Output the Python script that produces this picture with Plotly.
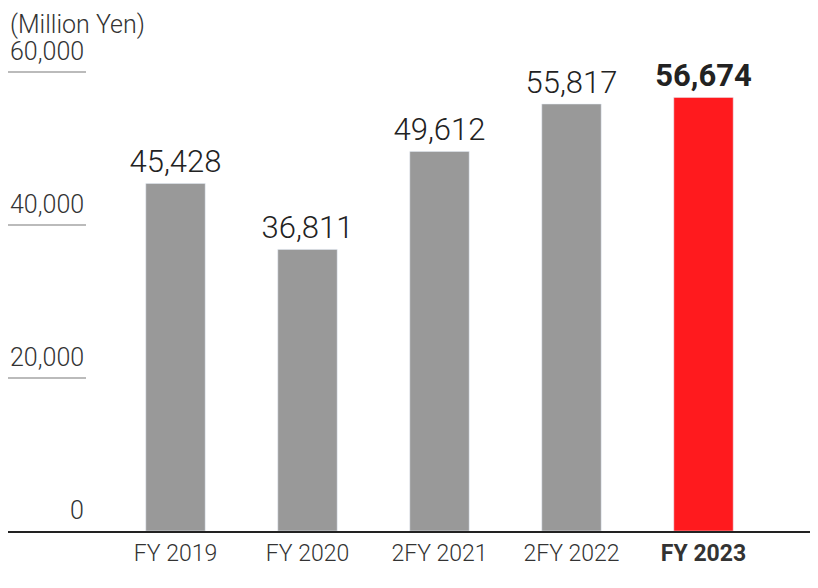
import plotly.graph_objects as go

years = ['FY 2019', 'FY 2020', '2FY 2021', '2FY 2022', 'FY 2023']
sales = [45428, 36811, 49612, 55817, 56674]
y_ticks = [0, 20000, 40000, 60000]

# page body has an 8px margin, so the figure is drawn 8px smaller
W, H = 810, 580
bar_colors = ['#999999'] * 4 + ['#ff1a1e']
labels = ['{:,}'.format(v) for v in sales]
labels[-1] = '<b>' + labels[-1] + '</b>'
tick_text = years[:-1] + ['<b>' + years[-1] + '</b>']

fig = go.Figure(go.Bar(
    x=list(range(len(years))),
    y=sales,
    marker_color=bar_colors,
    width=0.45,
    text=labels,
    textposition='outside',
    constraintext='none',
    cliponaxis=False,
    textfont=dict(family='Roboto', size=31, color='#222', weight=300),
))

# short gridlines under the y labels, and the labels themselves
for v in y_ticks:
    if v > 0:
        fig.add_shape(type='line', xref='paper', yref='y',
                      x0=0, x1=78 / W, y0=v, y1=v,
                      line=dict(color='#bbbbbb', width=2))
    fig.add_annotation(x=78 / W, xref='paper', y=v, yref='y',
                       text='{:,}'.format(v), showarrow=False,
                       xanchor='right', yanchor='bottom', yshift=4,
                       font=dict(family='Roboto', size=25, color='#333', weight=300))

fig.add_annotation(x=0, xref='paper', y=1, yref='paper', text='(Million Yen)',
                   showarrow=False, xanchor='left', yanchor='top',
                   font=dict(family='Roboto', size=25, color='#333', weight=300))

bottom = 57
y_top = 60000 * (H - bottom) / 459
fig.update_layout(
    width=W, height=H,
    margin=dict(l=0, r=0, t=0, b=bottom),
    plot_bgcolor='white', paper_bgcolor='white',
    showlegend=False,
    xaxis=dict(range=[-167.5 / 132, (W - 167.5) / 132],
               tickvals=list(range(len(years))), ticktext=tick_text,
               showline=True, linecolor='#222', linewidth=2,
               showgrid=False, zeroline=False, ticks='',
               tickfont=dict(family='Roboto', size=23, color='#333', weight=300)),
    yaxis=dict(range=[0, y_top], visible=False, showgrid=False),
)

fig.write_html('out.html')
